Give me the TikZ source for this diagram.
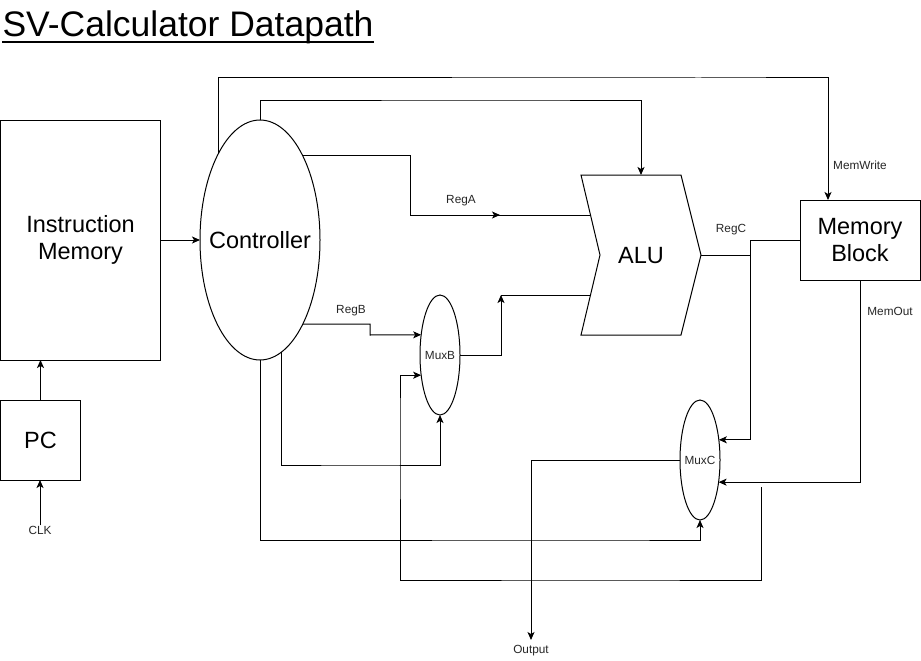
\documentclass[tikz,border=0pt]{standalone}
\usepackage{fontspec}
\setmainfont{Liberation Sans}
\usetikzlibrary{shapes.geometric,arrows.meta,calc}
\begin{document}
\begin{tikzpicture}[x=1pt,y=-1pt,
  line width=1pt,
  arr/.style={-{Stealth[length=8pt,width=7pt,inset=2pt]}},
  blk/.style={draw,rectangle,inner sep=0pt,outer sep=0pt,font=\fontsize{23.5}{27}\selectfont,align=center},
  ell/.style={draw,ellipse,inner sep=0pt,outer sep=0pt},
  big/.style={font=\fontsize{23.5}{27}\selectfont},
  small/.style={font=\fontsize{11.8}{14}\selectfont,text=black!85,inner sep=0pt},
]
\useasboundingbox (0,0) rectangle (921,661);

% title
\node[anchor=base west,inner sep=0pt,font=\fontsize{35.5}{40}\selectfont] (title) at (2,37) {SV-Calculator Datapath};
\draw[line width=2pt] (title.base west) ++(0,5) -- ($(title.base east)+(0,5)$);

% blocks
\node[blk,minimum width=159.5pt,minimum height=240pt] (im) at (80.5,240) {\raisebox{-3pt}{}Instruction\\Memory};
\node[blk,minimum width=79.5pt,minimum height=80pt] (pc) at (40.5,440) {PC};
\node[blk,minimum width=120pt,minimum height=80pt] (mem) at (860,240) {Memory\\Block};
\node[ell,minimum width=120pt,minimum height=240pt,label={[big]center:Controller}] (ctrl) at (260,240) {};
\node[ell,minimum width=40pt,minimum height=120pt,label={[small]center:MuxB}] (muxb) at (440,355) {};
\node[ell,minimum width=40pt,minimum height=120pt,label={[small]center:MuxC}] (muxc) at (700,460) {};

% ALU shape
\coordinate (alu-tl) at (581,175);
\coordinate (alu-tr) at (681,175);
\coordinate (alu-out) at (701,255);
\coordinate (alu-br) at (681,335);
\coordinate (alu-bl) at (581,335);
\coordinate (alu-n) at (600,255);
\draw (alu-tl) -- (alu-tr) -- (alu-out) -- (alu-br) -- (alu-bl) -- (alu-n) -- cycle;
\node[big] (alu) at (641,256) {ALU};
\coordinate (alu-a) at (590.5,215);
\coordinate (alu-b) at (590.5,295);
\coordinate (alu-top) at (641,175);

% labels
\node[small] (clk) at (40,530) {CLK};
\node[small] (rega) at (461,201) {RegA};
\node[small] (regb) at (351,311) {RegB};
\node[small] (regc) at (731,230) {RegC};
\node[small] (memwl) at (860,165) {MemWrite};
\node[small] (memol) at (890,311) {MemOut};
\node[small] (outl) at (531,651) {Output};

% connectors
\draw[arr] (clk.north) -- (clk.north |- pc.south);
\draw[arr] (pc.north) -- (pc.north |- im.south);
\draw[arr] (im.east) -- (ctrl.west);

\coordinate (memw) at (828,200);
\draw[arr] (ctrl.116) |- (700,78) -| (memw);
\draw[arr] (ctrl.north) |- (500,100) -| (alu-top);

\coordinate (ra) at (500,215);
\draw (ctrl.63) -| (410,215) -- (alu-a);
\draw[arr] (410,215) -- (ra);

\draw[arr] (ctrl.-63) -| (370,335) -- (muxb.133);
\draw[arr] (ctrl.-79) |- (360,465) -| (muxb.south);

\coordinate (mbo) at (501,295);
\draw[arr] (muxb.east) -| (mbo);
\draw (mbo) -- (alu-b);

\coordinate (split) at (750,240);
\draw (alu-out) -- (alu-out -| split);
\draw (mem.west) -- (split);
\draw[arr] (split) |- (muxc.47);

\draw[arr] (mem.south) |- (muxc.-50);

\coordinate (fb) at (761,487);
\draw[arr] (fb) |- (600,580) -| (400,420) |- (muxb.-133);

\draw[arr] (ctrl.south) |- (600,540) -| (muxc.south);

\coordinate (outp) at (531,640);
\draw[arr] (muxc.west) -| (outp);
\end{tikzpicture}
\end{document}
